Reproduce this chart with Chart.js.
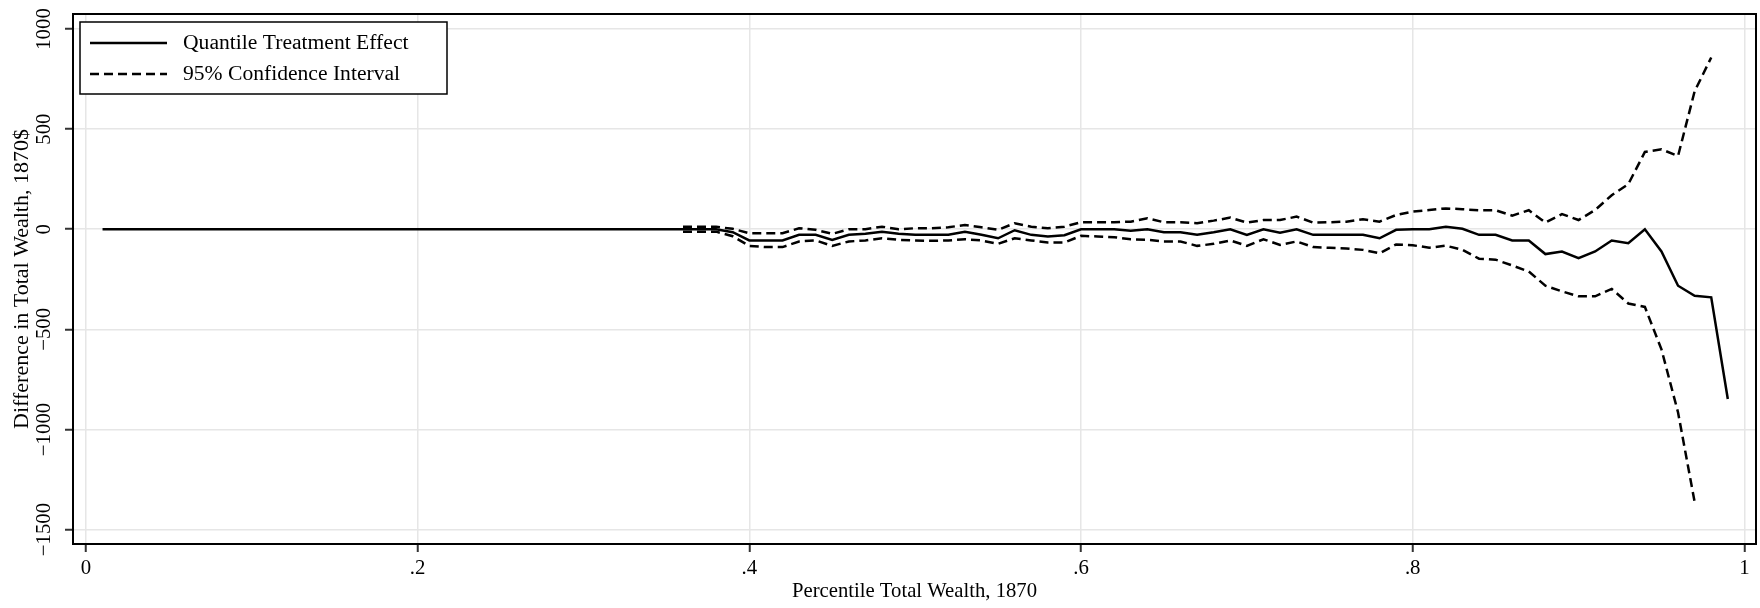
<!DOCTYPE html>
<html lang="en">
  <head>
    <meta charset="UTF-8" />
    <script src="https://cdn.jsdelivr.net/npm/chart.js@4.4.0/dist/chart.umd.min.js"></script>
    <title>Quantile treatment effect</title>
    <style>
      body {
        margin: 0;
        padding: 0;
        background: #fff;
      }

      .container {
        width: 1760px;
        height: 608px;
      }
    </style>
  </head>
  <body>
    <div class="container">
      <canvas id="qteChart"></canvas>
    </div>
    <script>
      // percentiles of 1870 total wealth
      const percentiles = [
        0.01, 0.02, 0.03, 0.04, 0.05, 0.06, 0.07, 0.08, 0.09, 0.1,
        0.11, 0.12, 0.13, 0.14, 0.15, 0.16, 0.17, 0.18, 0.19, 0.2,
        0.21, 0.22, 0.23, 0.24, 0.25, 0.26, 0.27, 0.28, 0.29, 0.3,
        0.31, 0.32, 0.33, 0.34, 0.35, 0.36, 0.37, 0.38, 0.39, 0.4,
        0.41, 0.42, 0.43, 0.44, 0.45, 0.46, 0.47, 0.48, 0.49, 0.5,
        0.51, 0.52, 0.53, 0.54, 0.55, 0.56, 0.57, 0.58, 0.59, 0.6,
        0.61, 0.62, 0.63, 0.64, 0.65, 0.66, 0.67, 0.68, 0.69, 0.7,
        0.71, 0.72, 0.73, 0.74, 0.75, 0.76, 0.77, 0.78, 0.79, 0.8,
        0.81, 0.82, 0.83, 0.84, 0.85, 0.86, 0.87, 0.88, 0.89, 0.9,
        0.91, 0.92, 0.93, 0.94, 0.95, 0.96, 0.97, 0.98, 0.99,
      ]

      const qte = [
        0, 0, 0, 0, 0, 0, 0, 0, 0, 0,
        0, 0, 0, 0, 0, 0, 0, 0, 0, 0,
        0, 0, 0, 0, 0, 0, 0, 0, 0, 0,
        0, 0, 0, 0, 0, 0, 0, 0, -15, -56,
        -56, -56, -28, -28, -53, -28, -23, -12, -23, -28,
        -28, -28, -13, -28, -45, -5, -28, -36, -30, 0,
        0, 0, -8, 0, -15, -15, -28, -15, 0, -28,
        0, -17, 0, -28, -28, -28, -28, -45, -3, 0,
        0, 12, 2, -28, -28, -56, -56, -124, -111, -144,
        -111, -56, -70, 0, -111, -282, -332, -340, -848,
      ]

      // confidence bands start at the 36th percentile
      const ciStart = 35
      const ciUpper = [
        12, 12, 12, 2, -20,
        -20, -20, 5, -3, -23, 0, 0, 13, 0, 5,
        5, 10, 21, 10, -3, 30, 13, 5, 13, 35,
        35, 35, 38, 55, 35, 35, 30, 43, 58, 33,
        46, 46, 63, 33, 35, 38, 50, 38, 71, 88,
        96, 104, 100, 95, 95, 68, 95, 33, 76, 46,
        96, 170, 225, 386, 399, 366, 689, 858,
      ]
      const ciLower = [
        -12, -12, -12, -35, -83,
        -89, -89, -61, -56, -83, -61, -56, -45, -53, -56,
        -58, -56, -50, -56, -73, -45, -56, -66, -66, -33,
        -36, -40, -50, -53, -61, -61, -83, -73, -56, -83,
        -50, -78, -61, -89, -93, -96, -103, -120, -76, -80,
        -92, -82, -103, -147, -152, -181, -211, -282, -310, -335,
        -335, -298, -371, -388, -600, -915, -1362,
      ]

      const xTicks = [0, 0.2, 0.4, 0.6, 0.8, 1]
      const xTickLabels = ['0', '.2', '.4', '.6', '.8', '1']
      const yTicks = [-1500, -1000, -500, 0, 500, 1000]
      const yTickLabels = ['\u22121500', '\u22121000', '\u2212500', '0', '500', '1000']

      const serif = '"Liberation Serif", "Times New Roman", serif'

      const toPoints = (values, offset) =>
        values.map((v, i) => ({ x: percentiles[offset + i], y: v }))

      // Stata-style boxed legend sitting inside the plot region
      const legendBox = {
        id: 'legendBox',
        afterDraw(chart) {
          const { ctx, chartArea } = chart
          const x = chartArea.left + 7
          const y = chartArea.top + 8
          ctx.save()
          ctx.fillStyle = '#fff'
          ctx.fillRect(x, y, 367, 72)
          ctx.strokeStyle = '#000'
          ctx.lineWidth = 1.5
          ctx.strokeRect(x, y, 367, 72)
          chart.data.datasets.slice(0, 2).forEach((ds, i) => {
            const ly = y + 21 + i * 31
            ctx.setLineDash(ds.borderDash || [])
            ctx.lineWidth = 2.5
            ctx.beginPath()
            ctx.moveTo(x + 10, ly)
            ctx.lineTo(x + 87, ly)
            ctx.stroke()
            ctx.setLineDash([])
            ctx.font = '21.6px ' + serif
            ctx.fillStyle = '#000'
            ctx.textBaseline = 'middle'
            ctx.fillText(ds.label, x + 103, ly)
          })
          // frame round the plot region
          ctx.lineWidth = 2
          ctx.strokeRect(chartArea.left, chartArea.top, chartArea.width, chartArea.height)
          ctx.restore()
        },
      }

      const ctx = document.getElementById('qteChart').getContext('2d')
      const chart = new Chart(ctx, {
        type: 'line',
        data: {
          datasets: [
            {
              label: 'Quantile Treatment Effect',
              data: toPoints(qte, 0),
              borderColor: '#000',
              borderWidth: 2.5,
            },
            {
              label: '95% Confidence Interval',
              data: toPoints(ciUpper, ciStart),
              borderColor: '#000',
              borderWidth: 2.5,
              borderDash: [9, 5],
            },
            {
              label: 'lower',
              data: toPoints(ciLower, ciStart),
              borderColor: '#000',
              borderWidth: 2.5,
              borderDash: [9, 5],
            },
          ],
        },
        options: {
          responsive: true,
          maintainAspectRatio: false,
          animation: false,
          elements: {
            point: { radius: 0 },
            line: { tension: 0 },
          },
          layout: {
            padding: { top: 14, right: 4, left: 0, bottom: 0 },
          },
          plugins: {
            legend: { display: false },
            tooltip: { enabled: false },
          },
          scales: {
            x: {
              type: 'linear',
              min: -0.0078,
              max: 1.007,
              afterBuildTicks: (scale) => {
                scale.ticks = xTicks.map((v) => ({ value: v }))
              },
              afterFit: (scale) => {
                scale.height = 64
              },
              ticks: {
                callback: (v) => xTickLabels[xTicks.indexOf(v)],
                font: { family: serif, size: 20.8 },
                color: '#000',
                padding: 4,
                maxRotation: 0,
              },
              grid: {
                color: '#e6e6e6',
                lineWidth: 1.5,
                tickColor: '#333',
                tickWidth: 2,
                tickLength: 8,
              },
              border: { color: '#000', width: 2 },
              title: {
                display: true,
                text: 'Percentile Total Wealth, 1870',
                font: { family: serif, size: 20.7 },
                color: '#000',
                padding: { top: 0, bottom: 4 },
              },
            },
            y: {
              min: -1572,
              max: 1075,
              afterBuildTicks: (scale) => {
                scale.ticks = yTicks.map((v) => ({ value: v }))
              },
              afterFit: (scale) => {
                scale.width = 73
              },
              ticks: {
                callback: (v) => yTickLabels[yTicks.indexOf(v)],
                font: { family: serif, size: 20.8 },
                color: '#000',
                minRotation: 90,
                maxRotation: 90,
                crossAlign: 'center',
                padding: -6,
              },
              grid: {
                color: '#e6e6e6',
                lineWidth: 1.5,
                tickColor: '#333',
                tickWidth: 2,
                tickLength: 8,
              },
              border: { color: '#000', width: 2 },
              title: {
                display: true,
                text: 'Difference in Total Wealth, 1870$',
                font: { family: serif, size: 22 },
                color: '#000',
                padding: { top: 9, bottom: 0 },
              },
            },
          },
        },
        plugins: [legendBox],
      })
    </script>
  </body>
</html>
